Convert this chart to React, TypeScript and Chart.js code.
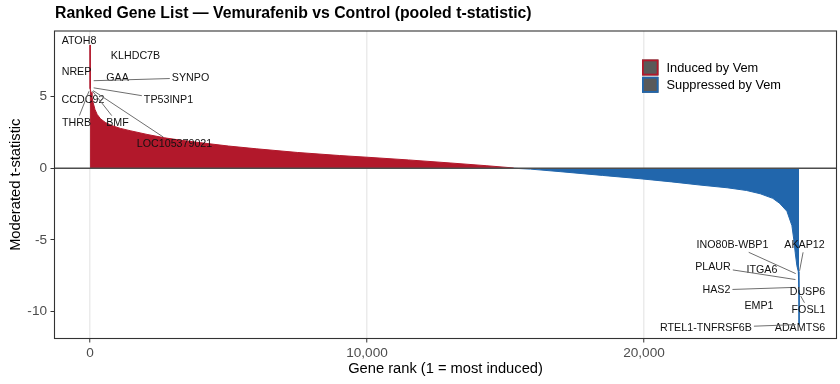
import { useEffect, useRef } from 'react';
import { Chart, registerables } from 'chart.js';

Chart.register(...registerables);

const FONT = '"Liberation Sans", Arial, Helvetica, sans-serif';
const RED = '#B2182B';
const BLUE = '#2166AC';

// Ranked curve, positive part (rank, moderated t)
const posRank = [1, 2, 3, 4, 5, 6, 7, 8, 9, 10, 36, 70, 110, 180, 260, 380, 550, 830, 1100, 1450, 2060, 2700, 3300, 4000, 5000, 6000, 7500, 9000, 10000, 11500, 13000, 14300, 15300];
const posT = [8.6, 7.4, 6.6, 6.2, 6.1, 5.75, 5.65, 5.6, 5.58, 5.55, 5.3, 5.0, 4.6, 4.1, 3.75, 3.45, 3.2, 2.95, 2.78, 2.62, 2.36, 2.12, 1.95, 1.78, 1.55, 1.36, 1.1, 0.89, 0.77, 0.58, 0.37, 0.18, 0.02];

// Ranked curve, negative part
const negRank = [15300, 15900, 17000, 18500, 19860, 21000, 22020, 23000, 23700, 24200, 24650, 24900, 25160, 25340, 25410, 25460, 25520, 25570, 25591, 25592, 25593, 25594, 25595, 25596, 25597, 25598, 25599, 25600];
const negT = [0, -0.06, -0.24, -0.5, -0.73, -0.95, -1.17, -1.36, -1.55, -1.78, -2.1, -2.45, -3.0, -4.0, -5.0, -5.9, -6.8, -7.2, -7.3, -7.4, -7.45, -7.8, -8.0, -8.3, -8.5, -8.7, -9.6, -10.9];

// Labelled genes
const labelGenes = ['ATOH8', 'KLHDC7B', 'NREP', 'GAA', 'SYNPO', 'CCDC92', 'TP53INP1', 'THRB', 'BMF', 'LOC105379021',
  'ITGA6', 'AKAP12', 'INO80B-WBP1', 'PLAUR', 'EMP1', 'HAS2', 'DUSP6', 'FOSL1', 'ADAMTS6', 'RTEL1-TNFRSF6B'];
const labelRank = [1, 2, 3, 4, 5, 6, 7, 8, 9, 10, 25591, 25592, 25593, 25594, 25595, 25596, 25597, 25598, 25599, 25600];
const labelT = [8.6, 7.4, 6.6, 6.2, 6.1, 5.75, 5.65, 5.6, 5.58, 5.55, -7.3, -7.4, -7.45, -7.8, -8.0, -8.3, -8.5, -8.7, -9.6, -10.9];
// repelled label positions (data units)
const labelX = [-397, 1643, -487, 993, 3628, -253, 2834, -487, 993, 3051,
  24260, 25794, 23195, 22491, 24152, 22617, 25903, 25939, 25632, 22238];
const labelY = [8.88, 7.83, 6.72, 6.3, 6.3, 4.76, 4.76, 3.16, 3.16, 1.66,
  -7.09, -5.35, -5.35, -6.88, -9.61, -8.49, -8.63, -9.89, -11.14, -11.14];
const labelLine = [false, false, false, false, true, false, true, true, true, true,
  false, true, true, true, false, true, false, true, false, true];

const xTicks = [0, 10000, 20000];
const xTickLabels = ['0', '10,000', '20,000'];
const yTicks = [-10, -5, 0, 5];
const yTickLabels = ['-10', '-5', '0', '5'];
const X_MIN = -1282;
const X_MAX = 26950;
const Y_MIN = -11.875;
const Y_MAX = 9.575;

const legendItems = ['Induced by Vem', 'Suppressed by Vem'];
const legendColors = [RED, BLUE];

const TITLE = 'Ranked Gene List \u2014 Vemurafenib vs Control (pooled t-statistic)';
const X_TITLE = 'Gene rank (1 = most induced)';
const Y_TITLE = 'Moderated t-statistic';

const annot = {
  id: 'annot',
  afterDatasetsDraw(chart: any) {
    const { ctx, chartArea: a, scales } = chart;
    const x = scales.x;
    const y = scales.y;
    ctx.save();
    // zero line
    const y0 = y.getPixelForValue(0);
    ctx.strokeStyle = '#4d4d4d';
    ctx.lineWidth = 1.3;
    ctx.beginPath();
    ctx.moveTo(a.left, y0);
    ctx.lineTo(a.right, y0);
    ctx.stroke();

    // gene labels
    ctx.font = `10.7px ${FONT}`;
    ctx.textAlign = 'center';
    ctx.textBaseline = 'middle';
    labelGenes.forEach((g, i) => {
      const px = x.getPixelForValue(labelRank[i]);
      const py = y.getPixelForValue(labelT[i]);
      const lx = x.getPixelForValue(labelX[i]);
      const ly = y.getPixelForValue(labelY[i]);
      if (labelLine[i]) {
        const hw = ctx.measureText(g).width / 2 + 2;
        const hh = 5.35 + 2;
        const dx = px - lx;
        const dy = py - ly;
        const t = Math.min(hw / Math.max(Math.abs(dx), 1e-6), hh / Math.max(Math.abs(dy), 1e-6));
        const sx = lx + dx * t;
        const sy = ly + dy * t;
        const len = Math.hypot(dx, dy);
        const ex = px - (dx / len) * 3.5;
        const ey = py - (dy / len) * 3.5;
        ctx.strokeStyle = '#6e6e6e';
        ctx.lineWidth = 1;
        ctx.beginPath();
        ctx.moveTo(sx, sy);
        ctx.lineTo(ex, ey);
        ctx.stroke();
      }
      ctx.fillStyle = '#111111';
      ctx.fillText(g, lx, ly);
    });

    // panel border
    ctx.strokeStyle = '#333333';
    ctx.lineWidth = 1.1;
    ctx.strokeRect(a.left, a.top, a.right - a.left, a.bottom - a.top);
    ctx.restore();
  },
  afterDraw(chart: any) {
    const { ctx, chartArea: a } = chart;
    ctx.save();
    // title
    ctx.fillStyle = '#000000';
    ctx.font = `bold 15.8px ${FONT}`;
    ctx.textAlign = 'left';
    ctx.textBaseline = 'middle';
    ctx.fillText(TITLE, a.left + 0.5, 14);
    // axis titles
    ctx.font = `14.7px ${FONT}`;
    ctx.textAlign = 'center';
    ctx.fillText(X_TITLE, (a.left + a.right) / 2, 369);
    ctx.save();
    ctx.translate(16, (a.top + a.bottom) / 2);
    ctx.rotate(-Math.PI / 2);
    ctx.fillText(Y_TITLE, 0, 0);
    ctx.restore();
    // legend
    ctx.font = `12.8px ${FONT}`;
    ctx.textAlign = 'left';
    legendItems.forEach((lab, i) => {
      const ky = 59.5 + i * 17.3;
      ctx.fillStyle = '#595959';
      ctx.fillRect(642, ky, 16.5, 16);
      ctx.strokeStyle = legendColors[i];
      ctx.lineWidth = 1.8;
      ctx.strokeRect(642.9, ky + 0.9, 14.7, 14.2);
      ctx.fillStyle = '#000000';
      ctx.fillText(lab, 666.5, ky + 8.5);
    });
    ctx.restore();
  },
};

export default function App() {
  const ref = useRef<HTMLCanvasElement>(null);
  useEffect(() => {
    const canvas = ref.current!;
    const chart = new Chart(canvas, {
      type: 'line',
      data: {
        datasets: [
          {
            label: legendItems[0],
            data: posRank.map((r, i) => ({ x: r, y: posT[i] })),
            fill: 'origin',
            backgroundColor: RED,
            borderColor: RED,
            borderWidth: 1,
            pointRadius: 0,
            tension: 0,
          },
          {
            label: legendItems[1],
            data: negRank.map((r, i) => ({ x: r, y: negT[i] })),
            fill: 'origin',
            backgroundColor: BLUE,
            borderColor: BLUE,
            borderWidth: 1,
            pointRadius: 0,
            tension: 0,
          },
        ],
      },
      options: {
        responsive: false,
        animation: false,
        devicePixelRatio: 1,
        layout: { padding: { top: 31, left: 0, right: 3.5, bottom: 0 } },
        plugins: {
          legend: { display: false },
          title: { display: false },
          tooltip: { enabled: false },
        },
        scales: {
          x: {
            type: 'linear',
            min: X_MIN,
            max: X_MAX,
            afterFit: (s: any) => { s.height = 45.5; },
            afterBuildTicks: (s: any) => { s.ticks = xTicks.map((v) => ({ value: v })); },
            ticks: {
              autoSkip: false,
              maxRotation: 0,
              padding: 3,
              color: '#4d4d4d',
              font: { family: FONT, size: 13.6 },
              callback: (v: any) => xTickLabels[xTicks.indexOf(Number(v))],
            },
            grid: { color: '#ebebeb', lineWidth: 1.5, tickColor: '#333333', tickLength: 4, tickWidth: 1 },
            border: { display: false },
          },
          y: {
            type: 'linear',
            min: Y_MIN,
            max: Y_MAX,
            afterFit: (s: any) => { s.width = 54.5; },
            afterBuildTicks: (s: any) => { s.ticks = yTicks.map((v) => ({ value: v })); },
            ticks: {
              padding: 3.5,
              color: '#4d4d4d',
              font: { family: FONT, size: 13.6 },
              callback: (v: any) => yTickLabels[yTicks.indexOf(Number(v))],
            },
            grid: { drawOnChartArea: false, tickColor: '#333333', tickLength: 4, tickWidth: 1 },
            border: { display: false },
          },
        },
      },
      plugins: [annot],
    });
    return () => chart.destroy();
  }, []);
  return (
    <div style={{ position: 'absolute', left: 0, top: 0, width: 840, height: 384, background: '#ffffff' }}>
      <canvas ref={ref} width={840} height={384} style={{ display: 'block', width: 840, height: 384 }} />
    </div>
  );
}
